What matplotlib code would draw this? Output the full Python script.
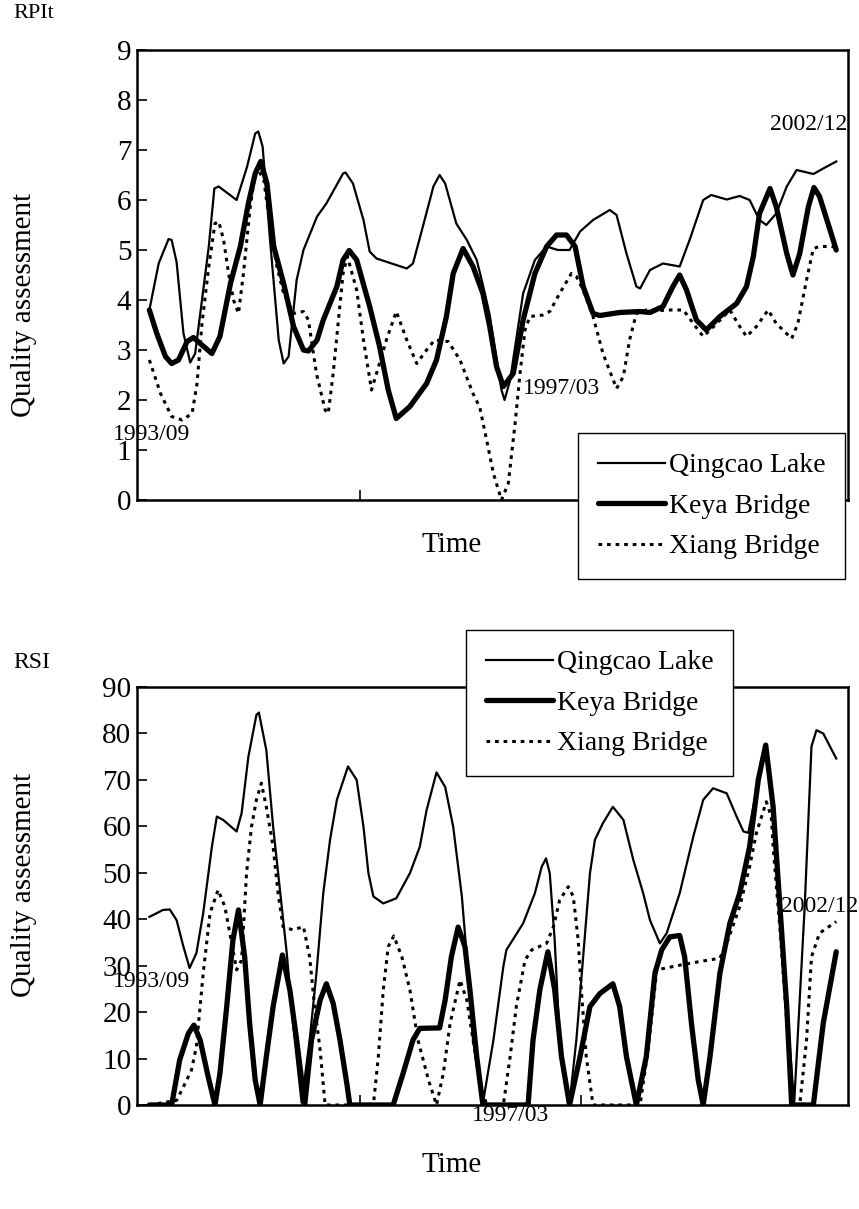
import matplotlib
matplotlib.use("Agg")
import matplotlib.pyplot as plt

plt.rcParams['font.family'] = ['Liberation Serif', 'DejaVu Serif']

# ---------------- data (time index in months from 1993/09) ----------------
# Top chart: RPIt
rpi_qingcao_t = [0, 1.5, 3.1, 3.6, 4.4, 5.5, 6.6, 7.4, 9.6, 10.5, 11.2, 14.1, 15.8, 17.1, 17.6, 18.3,
                 19.5, 20.9, 21.7, 22.5, 23.8, 24.9, 27.1, 28.6, 31.3, 31.7, 32.9, 34.6, 35.6, 36.7,
                 41.6, 42.6, 44.2, 45.9, 46.9, 47.8, 49.6, 51.3, 52.9, 53.9, 55.0, 56.0, 56.9, 57.4,
                 58.3, 60.4, 62.3, 64.2, 66.0, 67.9, 69.6, 71.7, 74.4, 75.5, 77.1, 78.7, 79.3, 80.9,
                 83.0, 85.7, 87.3, 89.5, 90.8, 93.3, 95.4, 97.0, 98.6, 99.7, 101.3, 103.0, 104.6,
                 107.3, 108.9, 111]
rpi_qingcao = [3.8, 4.73, 5.22, 5.2, 4.76, 3.34, 2.75, 2.93, 5.07, 6.23, 6.27, 6.0, 6.67, 7.33, 7.37, 7.07,
               5.2, 3.2, 2.73, 2.87, 4.4, 5.0, 5.67, 5.93, 6.53, 6.55, 6.33, 5.6, 4.97, 4.83,
               4.63, 4.73, 5.47, 6.27, 6.5, 6.33, 5.53, 5.2, 4.8, 4.3, 3.7, 2.9, 2.2, 2.0,
               2.4, 4.13, 4.8, 5.07, 5.0, 5.0, 5.37, 5.6, 5.8, 5.7, 4.93, 4.27, 4.23, 4.6,
               4.73, 4.67, 5.2, 6.0, 6.1, 6.01, 6.08, 6.0, 5.6, 5.5, 5.73, 6.27, 6.6,
               6.52, 6.63, 6.77]

rpi_keya_t = [0, 1.2, 2.6, 3.6, 4.7, 6.1, 7.1, 8.5, 10.1, 11.4, 13.1, 14.7, 16.0, 17.1, 18.0, 19.0,
              20.1, 21.7, 23.3, 24.9, 25.7, 27.1, 28.1, 30.3, 31.3, 32.3, 33.5, 35.6, 37.2, 38.6,
              39.9, 42.1, 44.8, 46.4, 48.0, 49.1, 50.7, 52.3, 53.9, 55.0, 56.1, 57.2, 58.8, 60.4,
              62.3, 64.2, 65.8, 67.4, 68.8, 70.1, 71.7, 72.8, 76.0, 79.3, 80.9, 83.0, 84.6, 85.7,
              86.8, 88.4, 90.0, 92.2, 94.9, 96.5, 97.6, 98.6, 100.3, 101.3, 103.0, 104.0, 105.1,
              106.5, 107.4, 108.3, 110.0, 111]
rpi_keya = [3.8, 3.33, 2.87, 2.73, 2.8, 3.17, 3.25, 3.1, 2.93, 3.27, 4.33, 5.07, 5.93, 6.53, 6.77, 6.33,
            5.07, 4.33, 3.47, 3.0, 2.98, 3.2, 3.6, 4.27, 4.8, 4.99, 4.8, 3.87, 3.07, 2.2,
            1.63, 1.87, 2.33, 2.8, 3.67, 4.53, 5.03, 4.67, 4.13, 3.47, 2.67, 2.27, 2.53, 3.6,
            4.53, 5.07, 5.3, 5.3, 5.07, 4.27, 3.73, 3.69, 3.75, 3.77, 3.75, 3.87, 4.27, 4.5,
            4.2, 3.6, 3.4, 3.67, 3.93, 4.27, 4.87, 5.73, 6.23, 5.87, 4.93, 4.5, 4.93,
            5.87, 6.25, 6.07, 5.4, 5.0]

rpi_xiang_t = [0, 1.8, 3.6, 5.3, 6.9, 7.7, 8.5, 9.6, 10.6, 11.2, 12.0, 12.8, 13.6, 14.4, 15.2, 16.3,
               17.1, 17.6, 18.5, 19.5, 20.6, 21.7, 23.3, 24.9, 25.7, 27.0, 28.4, 28.9, 29.7, 30.5,
               31.3, 32.0, 33.5, 34.6, 35.9, 36.7, 38.3, 39.9, 41.6, 43.2, 44.8, 46.1, 48.3, 50.2,
               52.3, 53.4, 54.5, 55.6, 56.9, 58.0, 59.1, 59.9, 60.7, 61.5, 63.6, 64.7, 66.3, 68.2,
               69.0, 70.1, 71.7, 73.3, 75.5, 76.6, 77.6, 78.7, 80.3, 82.5, 84.1, 86.3, 87.9, 89.5,
               91.7, 93.8, 95.4, 96.5, 98.1, 100.0, 101.3, 103.8, 104.8, 106.2, 107.3, 108.3, 110.2, 111]
rpi_xiang = [2.8, 2.13, 1.67, 1.6, 1.73, 2.33, 3.53, 4.67, 5.53, 5.57, 5.2, 4.53, 4.0, 3.73, 4.53, 5.87,
             6.53, 6.6, 6.4, 5.47, 4.67, 4.13, 3.73, 3.77, 3.6, 2.53, 1.8, 1.73, 2.53, 3.53,
             4.53, 4.87, 4.2, 3.2, 2.2, 2.53, 3.2, 3.77, 3.2, 2.73, 3.0, 3.2, 3.17, 2.8,
             2.13, 1.85, 1.2, 0.53, 0.0, 0.33, 1.53, 2.53, 3.4, 3.67, 3.7, 3.77, 4.13, 4.53,
             4.47, 4.2, 3.67, 2.93, 2.23, 2.47, 3.2, 3.73, 3.8, 3.79, 3.8, 3.8, 3.53, 3.27,
             3.53, 3.8, 3.47, 3.27, 3.47, 3.8, 3.53, 3.23, 3.53, 4.4, 5.03, 5.07, 5.07, 5.05]

# Bottom chart: RSI
rsi_qingcao_t = [0, 2.2, 3.3, 4.4, 5.5, 6.5, 7.6, 8.7, 10.1, 10.9, 11.9, 14.1, 14.9, 16.0, 17.3, 17.7,
                 18.9, 20.0, 21.1, 22.2, 23.2, 24.6, 25.9, 27.0, 28.1, 29.2, 30.3, 32.1, 33.5, 34.6,
                 35.4, 36.2, 37.8, 39.9, 42.1, 43.7, 44.8, 46.4, 47.8, 49.1, 50.5, 51.3, 52.3, 53.9,
                 55.6, 57.2, 57.7, 60.4, 62.3, 63.4, 64.1, 64.7, 65.5, 66.3, 67.9, 69.0, 70.1, 71.2,
                 72.0, 73.3, 74.9, 76.6, 78.2, 79.8, 80.9, 82.5, 83.6, 85.7, 87.9, 89.5, 91.1, 93.3,
                 94.9, 96.0, 96.8, 97.8, 98.9, 99.6, 100.8, 101.9, 103.0, 104.2, 105.9, 107.0, 107.8,
                 108.9, 111]
rsi_qingcao = [40.5, 42.0, 42.1, 39.8, 34.1, 29.5, 32.7, 41.3, 55.6, 62.1, 61.4, 58.9, 62.8, 75.0, 84.0, 84.5,
               76.4, 59.9, 46.3, 32.7, 17.6, 0.5, 14.0, 28.4, 45.6, 57.1, 65.7, 72.9, 70.0, 59.9,
               49.9, 44.9, 43.4, 44.5, 49.9, 55.6, 63.5, 71.6, 68.5, 59.9, 44.9, 31.9, 14.0, 0.4,
               14.0, 29.8, 33.4, 39.1, 45.6, 51.3, 53.1, 49.9, 35.5, 14.0, 0.4, 14.0, 31.9, 49.9,
               57.1, 60.7, 64.2, 61.4, 52.8, 45.6, 39.8, 34.8, 37.0, 45.6, 57.8, 65.7, 68.2, 67.1,
               62.1, 58.9, 58.6, 65.7, 74.3, 77.3, 64.2, 42.7, 21.2, 0.3, 42.7, 77.2, 80.7,
               80.0, 74.6]

rsi_keya_t = [0, 3.6, 4.9, 6.3, 7.2, 8.2, 9.5, 10.6, 11.4, 12.5, 13.5, 14.4, 15.4, 16.2, 17.1, 17.9,
              18.9, 20.0, 21.5, 22.7, 23.8, 25.1, 26.2, 27.6, 28.6, 29.7, 30.8, 31.9, 32.4, 39.4,
              41.0, 42.6, 43.7, 46.9, 47.8, 48.8, 49.9, 51.0, 51.8, 52.9, 53.9, 61.2, 62.0, 63.1,
              64.4, 65.5, 66.6, 67.9, 69.6, 71.2, 72.8, 74.9, 76.0, 77.1, 78.7, 80.3, 81.7, 82.8,
              84.1, 85.7, 86.5, 87.6, 88.7, 89.5, 90.6, 92.2, 93.8, 95.4, 97.0, 98.4, 99.6, 100.8,
              101.9, 103.0, 103.8, 107.3, 108.9, 111]
rsi_keya = [0, 0, 9.7, 15.4, 17.2, 14.0, 6.1, 0, 6.8, 21.2, 35.5, 42.0, 31.9, 17.6, 5.4, 0,
            10.4, 21.2, 32.3, 24.8, 14.0, 0, 14.0, 22.6, 26.1, 21.9, 14.0, 4.7, 0, 0,
            6.8, 14.0, 16.5, 16.6, 22.6, 31.9, 38.3, 34.1, 24.8, 10.4, 0, 0, 14.0, 24.8,
            33.0, 24.8, 10.4, 0, 10.4, 21.2, 24.0, 26.1, 21.2, 10.4, 0, 10.4, 28.4, 33.4,
            36.2, 36.5, 31.9, 17.6, 5.4, 0, 10.4, 28.4, 39.1, 45.6, 55.6, 70.0, 77.5, 64.2,
            42.7, 21.2, 0, 0, 17.6, 33.0]

rsi_xiang_t = [0, 4.4, 5.5, 6.8, 7.6, 8.7, 9.8, 11.1, 12.2, 13.0, 14.1, 14.9, 15.7, 16.5, 17.3, 18.1,
               18.9, 20.0, 20.8, 21.6, 23.2, 24.9, 25.9, 26.7, 27.6, 28.4, 36.2, 37.0, 37.8, 38.6,
               39.5, 40.8, 42.1, 43.4, 45.1, 46.4, 47.5, 48.6, 50.2, 51.3, 52.3, 53.4, 54.5, 57.2,
               58.3, 59.3, 60.7, 61.8, 64.2, 65.3, 66.3, 67.7, 68.5, 69.3, 69.8, 70.6, 71.7, 79.3,
               80.6, 82.0, 85.7, 89.0, 92.2, 93.5, 95.4, 97.0, 98.1, 99.7, 100.5, 100.8, 101.9,
               103.0, 104.0, 105.1, 106.2, 107.0, 108.3, 111]
rsi_xiang = [0, 1.0, 3.9, 7.5, 12.6, 28.4, 41.3, 46.3, 42.7, 37.0, 29.1, 31.2, 49.9, 59.9, 65.7, 69.3,
             64.2, 55.6, 45.6, 38.4, 37.7, 38.4, 31.9, 21.2, 11.8, 0, 0, 10.4, 24.8, 34.1,
             36.4, 31.9, 24.8, 14.0, 5.4, 0, 6.8, 17.6, 26.9, 22.6, 14.0, 5.4, 0, 0,
             10.4, 21.2, 31.2, 33.4, 34.8, 38.4, 44.1, 47.0, 44.9, 35.5, 24.8, 10.4, 0, 0,
             12.0, 29.1, 30.1, 30.9, 31.6, 35.5, 42.7, 51.3, 58.6, 65.3, 62.1, 55.6, 38.0,
             18.0, 0, 0, 14.0, 31.9, 37.0, 39.5]

series_names = ["Qingcao Lake", "Keya Bridge", "Xiang Bridge"]
rpi_ticks = list(range(0, 10))
rsi_ticks = list(range(0, 100, 10))
x_marks = [34.0, 69.8]

# ---------------- figure ----------------
W, H = 859, 1209
fig = plt.figure(figsize=(W / 100, H / 100), dpi=100)

def fx(px):
    return px / W

def fy(py):
    return 1 - py / H

ax1 = fig.add_axes([fx(137), fy(500), fx(848) - fx(137), fy(50) - fy(500)])
ax2 = fig.add_axes([fx(137), fy(1105), fx(848) - fx(137), fy(687) - fy(1105)])

styles = [dict(color='black', lw=1.6, solid_joinstyle='round'),
          dict(color='black', lw=3.8, solid_joinstyle='round', solid_capstyle='round'),
          dict(color='black', lw=2.2, linestyle=(0, (1.2, 1.6)))]

def draw(ax, ts, vs, ymax, ticks):
    for t, v, st, name in zip(ts, vs, styles, series_names):
        ax.plot(t, v, label=name, **st)
    ax.set_xlim(-2.0, 112.9)
    ax.set_ylim(0, ymax)
    ax.set_yticks(ticks)
    ax.set_yticklabels([str(v) for v in ticks])
    ax.set_xticks(x_marks)
    ax.set_xticklabels([])
    ax.tick_params(axis='both', direction='in', length=7, width=1.2, labelsize=21, pad=4, colors='black')
    for s in ax.spines.values():
        s.set_linewidth(1.8)
        s.set_color('black')

draw(ax1, [rpi_qingcao_t, rpi_keya_t, rpi_xiang_t], [rpi_qingcao, rpi_keya, rpi_xiang], 9, rpi_ticks)
draw(ax2, [rsi_qingcao_t, rsi_keya_t, rsi_xiang_t], [rsi_qingcao, rsi_keya, rsi_xiang], 90, rsi_ticks)

# annotations
ann = dict(fontsize=17, va='center', ha='left', clip_on=False)
ax1.text(-5.9, 1.32, "1993/09", **ann)
ax1.text(60.4, 2.24, "1997/03", **ann)
ax1.text(100.3, 7.5, "2002/12", **ann)
ax2.text(-5.9, 26.5, "1993/09", **ann)
ax2.text(52.1, -2.2, "1997/03", **ann)
ax2.text(102.1, 42.7, "2002/12", **ann)

# titles / labels
fig.text(fx(13), fy(14), "RPIt", fontsize=16, ha='left', va='center')
fig.text(fx(13), fy(663), "RSI", fontsize=17, ha='left', va='center')
fig.text(fx(24), fy(305), "Quality assessment", fontsize=21, rotation=90, ha='center', va='center')
fig.text(fx(24), fy(885), "Quality assessment", fontsize=21, rotation=90, ha='center', va='center')
fig.text(fx(452), fy(545), "Time", fontsize=21, ha='center', va='center')
fig.text(fx(452), fy(1165), "Time", fontsize=21, ha='center', va='center')

leg_kw = dict(loc='upper left', bbox_transform=fig.transFigure, fontsize=20, frameon=True,
              fancybox=False, shadow=False, framealpha=1, edgecolor='black',
              handlelength=2.4, handletextpad=0.15, labelspacing=0.54, borderpad=0.72,
              borderaxespad=0)
l1 = ax1.legend(bbox_to_anchor=(fx(578), fy(433)), **leg_kw)
l2 = ax2.legend(bbox_to_anchor=(fx(466), fy(630)), **leg_kw)
for l in (l1, l2):
    l.get_frame().set_linewidth(1.0)
    l.set_zorder(10)

fig.savefig("out.png", dpi=100)
